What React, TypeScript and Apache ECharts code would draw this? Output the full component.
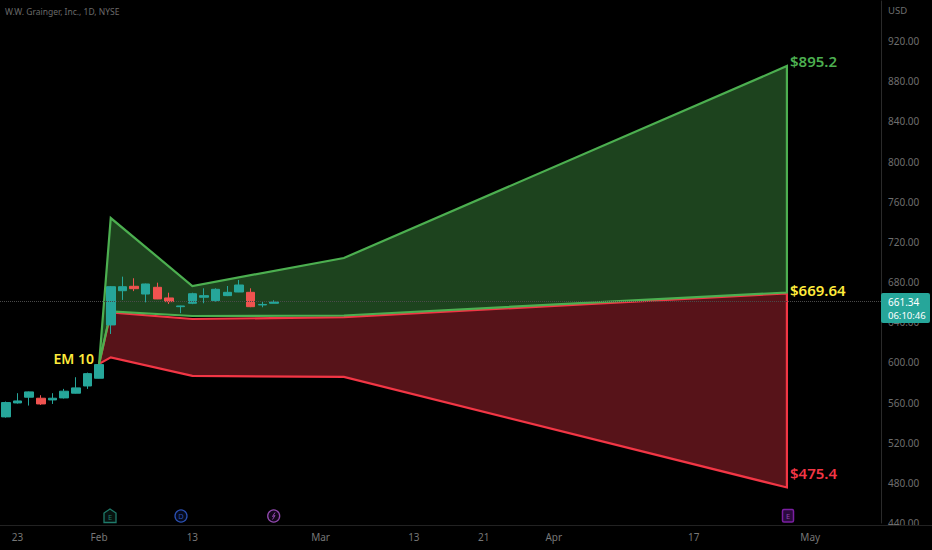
import React, { useEffect, useRef } from "react";
import * as echarts from "echarts";

const categories = [
  "Jan 20","Jan 23","Jan 24","Jan 25","Jan 26","Jan 27","Jan 30","Jan 31","Feb 1","Feb 2","Feb 3","Feb 6","Feb 7","Feb 8","Feb 9","Feb 10",
  "Feb 13","Feb 14","Feb 15","Feb 16","Feb 17","Feb 21","Feb 22","Feb 23","Feb 24","Feb 27","Feb 28","Mar 1","Mar 2","Mar 3","Mar 6","Mar 7",
  "Mar 8","Mar 9","Mar 10","Mar 13","Mar 14","Mar 15","Mar 16","Mar 17","Mar 20","Mar 21","Mar 22","Mar 23","Mar 24","Mar 27","Mar 28","Apr 1",
  "Apr 3","Apr 4","Apr 5","Apr 6","Apr 7","Apr 8","Apr 10","Apr 11","Apr 12","Apr 13","Apr 14","Apr 17","Apr 18","Apr 19","Apr 20","Apr 21",
  "Apr 24","Apr 25","Apr 26","Apr 27","Apr 28","May 1","May 2","May 3","May 4","May 5","May 8","May 9",
];
const tickIndices = [1, 8, 16, 27, 35, 41, 47, 59, 69];
const tickTexts = ["23", "Feb", "13", "Mar", "13", "21", "Apr", "17", "May"];

// open, close, low, high
const candles = [
  [545.7,560,545,561],[559.6,561.6,559,569.3],[565.3,570.6,557,571],[564.3,558.6,557.6,567.3],
  [562.6,564.3,558.6,569.3],[564.6,571.3,564,573.6],[569.3,574.6,569,585.2],[576.5,588.8,573.6,589.8],
  [584.2,597.8,584,598],[637.3,675.4,628.3,676],[671.4,675.4,662.2,685.4],[675.8,673.4,671,683.8],
  [668.1,678.1,659.8,678.5],[674.8,663.2,663,679.4],[664.2,660.5,658.2,669.4],[655.5,656.2,649,656.5],
  [658.9,668.4,658,669.4],[664.9,666.5,658.9,673.8],[661.5,672.8,660.5,673.8],[666.5,669.8,666,676.1],
  [670.1,677.1,670,682.1],[669.8,655.5,655,673.8],[657.2,657.7,654.9,660.5],[658.9,660.2,658.9,661.9],
];

const bandIndices = [8, 9, 16, 29, 67];
const upperEdge = [598.5, 743.8, 676.1, 704, 895.2];
const midGreenEdge = [598.5, 650.7, 646.2, 646.7, 669.64];
const midRedEdge = [598.5, 649.7, 643.2, 645, 668.8];
const lowerEdge = [598.5, 605, 586.5, 585.5, 475.4];
const lastPrice = 661.34;
const countdown = "06:10:46";
const FONT = "Noto Sans";

function bandSeries(top: number[], bottom: number[], line: string, fill: string) {
  return {
    type: "custom",
    coordinateSystem: "cartesian2d",
    clip: false,
    silent: true,
    z: 1,
    data: [[0, 0]],
    renderItem: (_p: any, api: any) => {
      const pts: number[][] = [];
      bandIndices.forEach((x, i) => pts.push(api.coord([x, top[i]])));
      for (let i = bandIndices.length - 1; i >= 1; i--) pts.push(api.coord([bandIndices[i], bottom[i]]));
      return { type: "polygon", shape: { points: pts }, style: { fill, stroke: line, lineWidth: 2.2 } };
    },
  };
}

const txt = (x: number, y: number, text: string, fill: string, fontSize: number, fontWeight: any = "normal", align: any = "left") => ({
  type: "text", x, y, z: 20,
  style: { text, fill, fontSize, fontWeight, fontFamily: FONT, align, verticalAlign: "middle" },
});

export default function App() {
  const ref = useRef<HTMLDivElement>(null);
  useEffect(() => {
    const chart = echarts.init(ref.current!, undefined, { renderer: "svg" });
    chart.setOption({
      animation: false,
      backgroundColor: "#000000",
      grid: { left: 0, right: 46, top: 1, bottom: 27 },
      xAxis: {
        type: "category",
        data: categories,
        offset: 2,
        axisLine: { show: false },
        axisTick: { show: false },
        splitLine: { show: false },
        axisLabel: {
          color: "#777777", fontSize: 10, fontFamily: FONT, margin: 7,
          interval: (i: number) => tickIndices.includes(i),
          formatter: (_v: string, i: number) => tickTexts[tickIndices.indexOf(i)] ?? "",
        },
      },
      yAxis: {
        type: "value", position: "right", min: 440, max: 960, interval: 40, offset: -5,
        axisLine: { show: true, lineStyle: { color: "#2a2a2a", width: 1 } },
        axisTick: { show: false },
        splitLine: { show: false },
        axisLabel: {
          color: "#6e6e6e", fontSize: 10, fontFamily: FONT, margin: 7,
          showMaxLabel: false,
          formatter: (v: number) => v.toFixed(2),
        },
      },
      series: [
        bandSeries(midRedEdge, lowerEdge, "#f23645", "rgba(242,54,69,0.36)"),
        bandSeries(upperEdge, midGreenEdge, "#4caf50", "rgba(76,175,80,0.38)"),
        {
          type: "candlestick",
          z: 3,
          barWidth: 9,
          silent: true,
          data: candles,
          itemStyle: { color: "#26a69a", color0: "#ef5350", borderColor: "#26a69a", borderColor0: "#ef5350", borderWidth: 1 },
          markLine: {
            silent: true, symbol: "none", animation: false,
            label: { show: false },
            lineStyle: { color: "#4a4a4a", type: "dotted", width: 1 },
            data: [{ yAxis: lastPrice }],
          },
        },
      ],
      graphic: [
        { type: "rect", z: 10, shape: { x: 881.5, y: 525, width: 51, height: 25 }, style: { fill: "#000000" } },
        { type: "line", z: 11, shape: { x1: 0, y1: 525.5, x2: 932, y2: 525.5 }, style: { stroke: "#222222", lineWidth: 1 } },
        txt(5, 11, "W.W. Grainger, Inc., 1D, NYSE", "#6a6a6a", 8.5),
        txt(888, 10, "USD", "#6e6e6e", 9.5),
        txt(790, 61, "$895.2", "#4caf50", 15, 600),
        txt(790, 290, "$669.64", "#ffeb3b", 15, 600),
        txt(790, 473, "$475.4", "#f23645", 15, 600),
        txt(94, 358, "EM 10", "#ffeb3b", 14, 600, "right"),
        { type: "rect", z: 19, shape: { x: 881, y: 293, width: 49, height: 30, r: 2 }, style: { fill: "#26a69a" } },
        txt(888, 301.5, lastPrice.toFixed(2), "#ffffff", 10),
        txt(888, 315, countdown, "#ffffff", 9.5),
        { type: "polygon", z: 12, shape: { points: [[110, 509], [116, 513], [116, 522.5], [104, 522.5], [104, 513]] }, style: { fill: "#07120f", stroke: "#1f7a6a", lineWidth: 1.3 } },
        txt(110, 517, "E", "#1f7a6a", 7.5, "normal", "center"),
        { type: "circle", z: 12, shape: { cx: 181, cy: 516, r: 6 }, style: { fill: "#050a1c", stroke: "#2a4fb0", lineWidth: 1.3 } },
        txt(181, 516, "D", "#2a4fb0", 7.5, "normal", "center"),
        { type: "circle", z: 12, shape: { cx: 273.7, cy: 516, r: 6 }, style: { fill: "#12061a", stroke: "#9048ad", lineWidth: 1.3 } },
        { type: "polyline", z: 13, shape: { points: [[275, 512.5], [272.5, 516.5], [275, 515.5], [272.5, 519.5]] }, style: { fill: "none", stroke: "#9048ad", lineWidth: 1 } },
        { type: "rect", z: 12, shape: { x: 782.5, y: 509.5, width: 11, height: 12.5, r: 1.5 }, style: { fill: "#2a0a3d", stroke: "#7b1fa2", lineWidth: 1.5 } },
        txt(788, 516, "E", "#8e44ad", 7.5, "normal", "center"),
      ],
    });
    return () => chart.dispose();
  }, []);
  return <div ref={ref} style={{ position: "absolute", left: 0, top: 0, width: 932, height: 550 }} />;
}
